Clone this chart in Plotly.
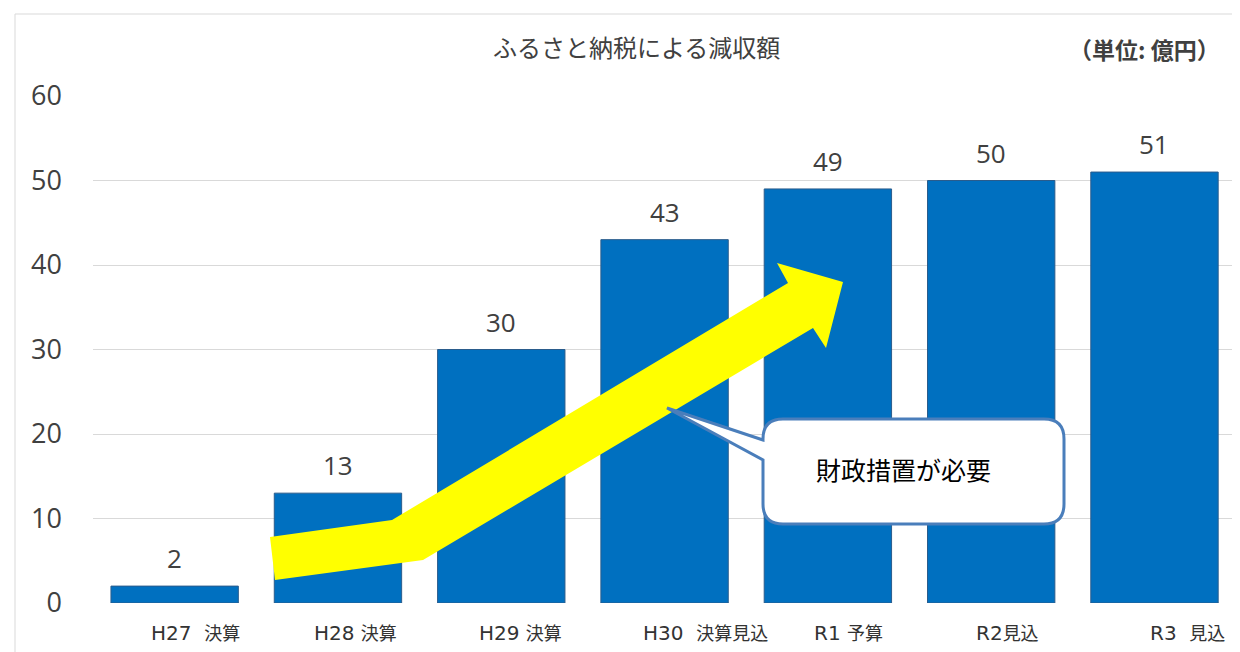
import plotly.graph_objects as go

# ---- data ----
eras = ["H27", "H28", "H29", "H30", "R1", "R2", "R3"]
statuses = ["決算", "決算", "決算", "決算見込", "予算", "見込", "見込"]
values = [2, 13, 30, 43, 49, 50, 51]
y_ticks = [0, 10, 20, 30, 40, 50, 60]
title_text = "ふるさと納税による減収額"
unit_text = "（単位: 億円）"
callout_text = "財政措置が必要"

# ---- layout geometry (screen pixels; page body has 8px margin) ----
OFF = 8
W, H = 1232, 644
PX0, PX1 = 93, 1236          # plot area left/right on screen
PY0, PY1 = 96, 603           # plot area top/bottom on screen
ML = PX0 - OFF
MR = (OFF + W) - PX1
MT = PY0 - OFF
MB = (OFF + H) - PY1
STEP = 163.33
C0 = 174.5
XR = (-0.5, (PX1 - C0) / STEP)
YR = (0, 60)


def dx(px):
    return XR[0] + (px - PX0) / (PX1 - PX0) * (XR[1] - XR[0])


def dy(py):
    return YR[0] + (PY1 - py) / (PY1 - PY0) * (YR[1] - YR[0])


def px_paper(px):
    return (px - PX0) / (PX1 - PX0)


def py_paper(py):
    return (PY1 - py) / (PY1 - PY0)


def path(points, closed=True):
    parts = []
    for cmd, pts in points:
        coords = " ".join(f"{dx(a):.5f},{dy(b):.5f}" for a, b in pts)
        parts.append(f"{cmd}{coords}")
    return " ".join(parts) + (" Z" if closed else "")


xs = list(range(len(eras)))

fig = go.Figure()
fig.add_trace(go.Bar(
    x=xs, y=values, width=0.78,
    marker=dict(color="#0070C0", line=dict(color="#2A5C8C", width=1)),
    hoverinfo="skip",
))

annotations = []
# value labels
for x, v in zip(xs, values):
    annotations.append(dict(
        x=x, y=v, text=str(v), showarrow=False, yanchor="middle", yshift=28,
        font=dict(family="Open Sans, Noto Sans", size=26, color="#404040"),
    ))

# category labels (custom placed under bars)
label_shift = [-26, -26, -24, -24, -16, -17, -6]
label_gap = ["  ", " ", " ", "  ", " ", "", "  "]
for x, e, s, sh, g in zip(xs, eras, statuses, label_shift, label_gap):
    annotations.append(dict(
        x=x, y=0, xref="x", yref="y", xanchor="left", yanchor="middle",
        xshift=sh, yshift=-29, showarrow=False,
        text=(f"<span style='font-family:DejaVu Sans;font-size:20px'>{e}{g}</span>"
              f"<span style='font-size:18px'>{s}</span>"),
        font=dict(family="Noto Sans CJK JP", size=18, color="#333333"),
    ))

# title + unit
annotations.append(dict(
    x=px_paper(636), y=py_paper(47), xref="paper", yref="paper",
    text=title_text, showarrow=False, xanchor="center", yanchor="middle",
    font=dict(family="Noto Sans CJK JP", size=24, color="#404040"),
))
annotations.append(dict(
    x=px_paper(1144), y=py_paper(49), xref="paper", yref="paper",
    text=f"<b>{unit_text}</b>", showarrow=False, xanchor="center", yanchor="middle",
    font=dict(family="Noto Sans CJK JP", size=23, color="#404040"),
))
# callout text
annotations.append(dict(
    x=dx(903), y=dy(469), text=callout_text, showarrow=False,
    xanchor="center", yanchor="middle",
    font=dict(family="Noto Sans CJK JP", size=25, color="#000000"),
))

shapes = []
# outer light frame
shapes.append(dict(
    type="rect", xref="paper", yref="paper",
    x0=px_paper(15), x1=px_paper(1260),
    y0=py_paper(700), y1=py_paper(14),
    line=dict(color="#D9D9D9", width=1), fillcolor="rgba(0,0,0,0)", layer="below",
))

# yellow arrow
arrow_pts = [(270, 537), (392, 520), (788, 283), (777, 263), (843, 282),
             (826, 348), (813, 328), (423, 560), (275, 580)]
arrow_path = path([("M", [arrow_pts[0]])] + [("L", [p]) for p in arrow_pts[1:]])
shapes.append(dict(type="path", path=arrow_path, xref="x", yref="y",
                   fillcolor="#FFFF00", line=dict(width=0), layer="above"))

# callout box with pointer
L, R, T, B, r = 763, 1064, 419, 524, 20
callout = [
    ("M", [(L, 440)]), ("L", [(667, 408)]), ("L", [(L, 460)]),
    ("L", [(L, B - r)]), ("Q", [(L, B), (L + r, B)]),
    ("L", [(R - r, B)]), ("Q", [(R, B), (R, B - r)]),
    ("L", [(R, T + r)]), ("Q", [(R, T), (R - r, T)]),
    ("L", [(L + r, T)]), ("Q", [(L, T), (L, T + r)]),
]
shapes.append(dict(type="path", path=path(callout), xref="x", yref="y",
                   fillcolor="#FFFFFF", line=dict(color="#4A7EBB", width=3), layer="above"))

fig.update_layout(
    width=W, height=H,
    margin=dict(l=ML, r=MR, t=MT, b=MB, pad=0),
    paper_bgcolor="#FFFFFF", plot_bgcolor="#FFFFFF",
    showlegend=False,
    xaxis=dict(range=list(XR), showticklabels=False, showgrid=False, zeroline=False,
               showline=False, ticks="", fixedrange=True),
    yaxis=dict(range=list(YR), tickvals=y_ticks, showgrid=True, gridcolor="#D9D9D9",
               gridwidth=1, zeroline=False, showline=False, ticks="",
               ticklabelstandoff=30,
               tickfont=dict(family="Open Sans, Noto Sans", size=27, color="#404040")),
    annotations=annotations,
    shapes=shapes,
)

fig.write_html("out.html")
